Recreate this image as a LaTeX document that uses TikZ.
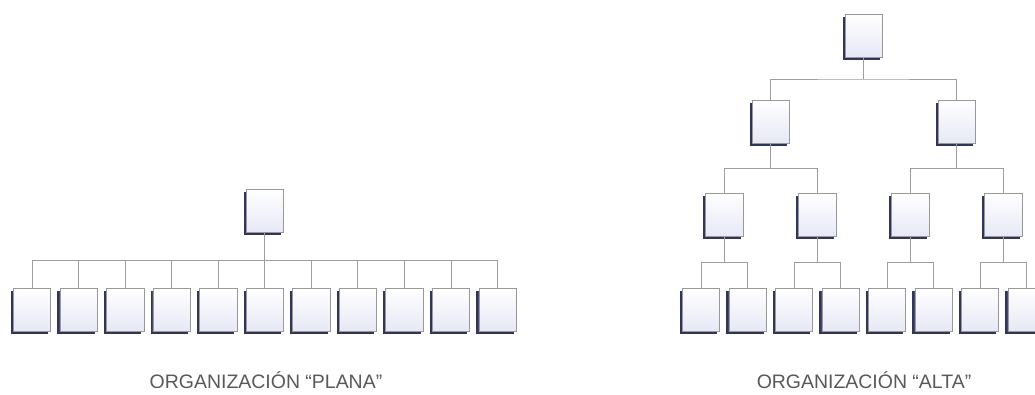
\documentclass[tikz,border=0pt]{standalone}
\usepackage{fontspec}
\setmainfont{Liberation Sans}
\usetikzlibrary{shadows,calc}

\definecolor{navy}{HTML}{30355A}
\definecolor{boxfill}{HTML}{E6E8F5}
\tikzset{
  unit/.style={draw=black!40, line width=0.4pt, top color=white, bottom color=boxfill,
    minimum width=28pt, minimum height=32.5pt, inner sep=0pt,
    drop shadow={shadow xshift=-1.8pt, shadow yshift=-2.1pt, fill=navy, opacity=1}},
  link/.style={draw=black!38, line width=0.6pt},
  caption/.style={text=black!65, font=\fontsize{14.6}{16}\selectfont}
}

\begin{document}
\begin{tikzpicture}[x=0.75pt, y=-0.75pt]
\clip (0,0) rectangle (1035,394);
\fill[white] (0,0) rectangle (1035,394);

% organizacion plana
\node[unit] (p0) at (264.75,211) {};
\foreach \i in {1,...,11}
  \node[unit] (p\i) at ({32+46.55*(\i-1)},310) {};
\coordinate (pbar) at ($(p0.south)!.5!(p0.south |- p1.north)$);
\draw[link] (p0.south) -- (p6.north);
\draw[link] (p1.north) |- (pbar) -| (p11.north);
\foreach \i in {2,...,10}
  \draw[link] (p\i.north) -- (p\i.north |- pbar);
\node[caption] (plana) at (266,380) {ORGANIZACIÓN “PLANA”};

% organizacion alta
\node[unit] (a0) at (863.75,36) {};
\node[unit] (a1) at (770.75,122) {};
\node[unit] (a2) at (956.75,122) {};
\node[unit] (b1) at (724.25,215) {};
\node[unit] (b2) at (817.25,215) {};
\node[unit] (b3) at (910.25,215) {};
\node[unit] (b4) at (1003.25,215) {};
\foreach \i in {1,...,8}
  \node[unit] (c\i) at ({701+46.5*(\i-1)},310) {};
\foreach \p/\l/\r in {a0/a1/a2, a1/b1/b2, a2/b3/b4, b1/c1/c2, b2/c3/c4, b3/c5/c6, b4/c7/c8} {
  \coordinate (\p-bar) at ($(\p.south)!.5!(\p.south |- \l.north)$);
  \draw[link] (\p.south) -- (\p-bar);
  \draw[link] (\l.north) |- (\p-bar) -| (\r.north);
}
\node[caption] (alta) at (864,380) {ORGANIZACIÓN “ALTA”};
\end{tikzpicture}
\end{document}
